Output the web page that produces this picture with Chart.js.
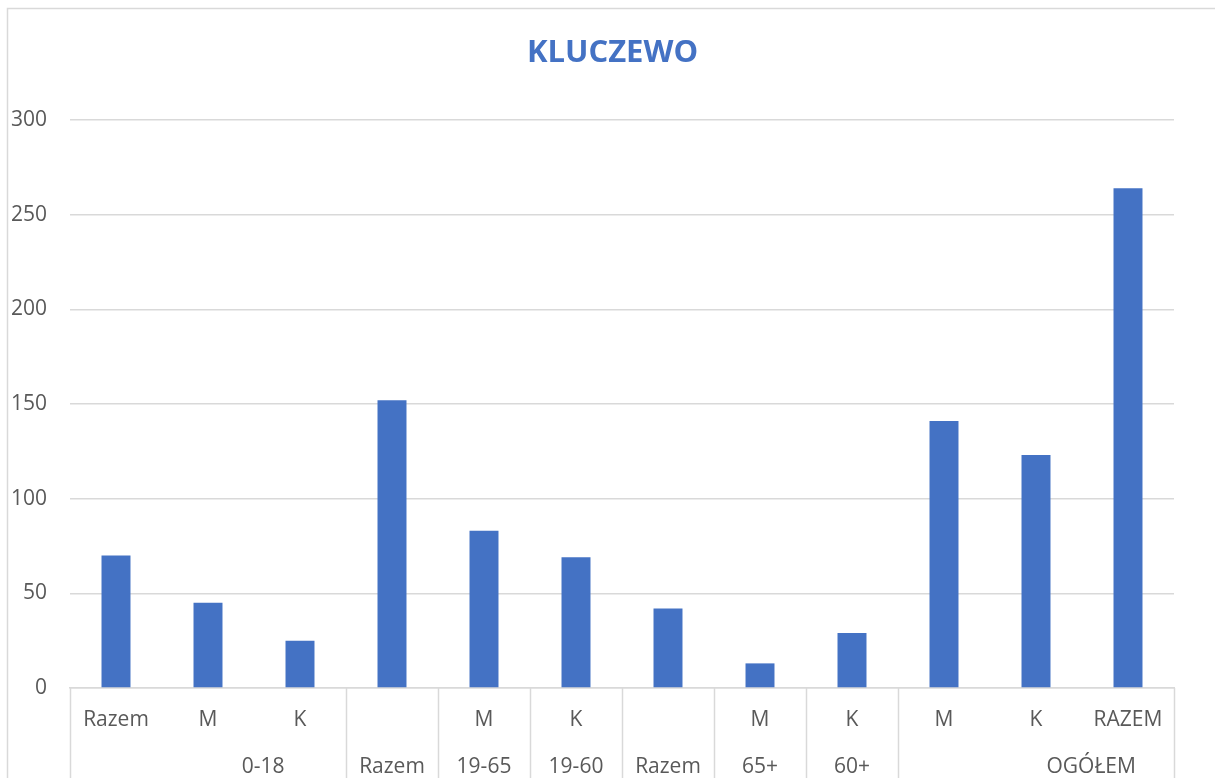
<!DOCTYPE html>
<html>
<head>
<meta charset="utf-8">
<script src="https://cdn.jsdelivr.net/npm/chart.js@4/dist/chart.umd.min.js"></script>
<style>
html,body{margin:0;padding:0;background:#fff;}
#wrap{width:1215px;height:778px;position:relative;}
</style>
</head>
<body>
<div id="wrap"><canvas id="c" width="1215" height="778"></canvas></div>
<script>
/* Kluczewo - wykres slupkowy z dwupoziomowa osia */
const title = 'KLUCZEWO';
const labels = ['Razem','M','K','','M','K','','M','K','M','K','RAZEM'];
const values = [70,45,25,152,83,69,42,13,29,141,123,264];
const groupLabels = ['0-18','Razem','19-65','19-60','Razem','65+','60+','OGÓŁEM'];
const groupSizes = [3,1,1,1,1,1,1,3];
const yTicks = [0,50,100,150,200,250,300];

const FONT = '"Open Sans", "DejaVu Sans", sans-serif';
const GRID = '#d9d9d9';
const TXT = '#595959';

// rama, tytul, separatory i drugi poziom etykiet
const decor = {
  id:'decor',
  afterDraw(chart){
    const ctx = chart.ctx, x = chart.scales.x, a = chart.chartArea;
    ctx.save();
    ctx.strokeStyle = GRID; ctx.lineWidth = 1.5;
    ctx.beginPath();
    ctx.moveTo(7.5, 778); ctx.lineTo(7.5, 8.5); ctx.lineTo(1215, 8.5);
    ctx.stroke();

    ctx.fillStyle = '#4472C4';
    ctx.font = 'bold 31px ' + FONT;
    ctx.textAlign = 'center'; ctx.textBaseline = 'middle';
    ctx.fillText(title, chart.width/2 + 5, 53);

    const cw = (a.right - a.left) / labels.length;
    let idx = 0;
    const edges = [a.left];
    ctx.font = '21px ' + FONT; ctx.fillStyle = TXT;
    groupLabels.forEach((g,i)=>{
      const n = groupSizes[i];
      const first = x.getPixelForValue(idx), last = x.getPixelForValue(idx+n-1);
      let cx = (first + last)/2;
      if(n > 1) cx += cw*0.6;
      ctx.fillText(g, cx, 767);
      idx += n;
      edges.push(last + cw/2);
    });
    ctx.beginPath();
    edges.forEach(e=>{ const px = Math.round(e)+0.5; ctx.moveTo(px, a.bottom); ctx.lineTo(px, 778); });
    ctx.stroke();
    ctx.restore();
  }
};

new Chart(document.getElementById('c').getContext('2d'), {
  type:'bar',
  data:{labels:labels, datasets:[{data:values, backgroundColor:'#4472C4', borderWidth:0,
    categoryPercentage:1, barPercentage:0.315}]},
  options:{
    responsive:false, animation:false,
    layout:{padding:{top:120, right:41, left:0, bottom:0}},
    plugins:{legend:{display:false}, tooltip:{enabled:false}, title:{display:false}},
    scales:{
      x:{
        grid:{display:false, drawTicks:false},
        border:{display:true, color:GRID, width:1.5},
        ticks:{color:TXT, font:{family:FONT, size:21}, padding:19, maxRotation:0, autoSkip:false},
        afterFit(s){ s.height = 90; }
      },
      y:{
        min:0, max:300,
        afterBuildTicks(s){ s.ticks = yTicks.map(v=>({value:v})); },
        grid:{color:GRID, lineWidth:1.5, drawTicks:false},
        border:{display:false},
        ticks:{color:TXT, font:{family:FONT, size:21}, padding:23},
        afterFit(s){ s.width = 70; }
      }
    }
  },
  plugins:[decor]
});
</script>
</body>
</html>
